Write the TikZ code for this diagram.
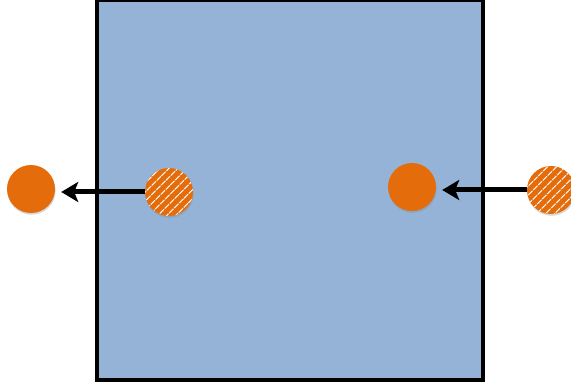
\documentclass[tikz,border=0pt]{standalone}
\usetikzlibrary{arrows.meta,patterns.meta,shadows}
\definecolor{boxblue}{HTML}{95B3D7}
\definecolor{dotorange}{HTML}{E46C0A}
\tikzset{
  solidparticle/.style={circle, minimum size=48pt, inner sep=0pt, fill=dotorange,
    drop shadow={shadow xshift=0.6pt, shadow yshift=-1.8pt, opacity=0.3}},
  hatchparticle/.style={circle, minimum size=48pt, inner sep=0pt, fill=dotorange,
    preaction={drop shadow={shadow xshift=0.6pt, shadow yshift=-1.8pt, opacity=0.3}},
    postaction={pattern={Lines[angle=45,distance=6.5pt,line width=1.4pt]}, pattern color=white!90!dotorange}},
  flow/.style={line width=5pt, -{Stealth[length=17pt,width=20pt,inset=4pt]}, shorten >=6pt},
  wall/.style={draw=black, line width=4pt, fill=boxblue}
}
\begin{document}
\begin{tikzpicture}[x=1pt,y=-1pt]
\useasboundingbox (0,0) rectangle (571,390);
\node[wall, minimum width=386pt, minimum height=380pt, inner sep=0pt, anchor=center] (box) at (290,190) {};
\node[solidparticle] (c1) at (31,189) {};
\node[hatchparticle] (h1) at (169,192) {};
\node[solidparticle] (c2) at (412,187) {};
\node[hatchparticle] (h2) at (551,190) {};
\draw[flow] (h1.west) -- (c1.east |- h1.west);
\draw[flow] (h2.west) -- (c2.east |- h2.west);
\end{tikzpicture}
\end{document}
